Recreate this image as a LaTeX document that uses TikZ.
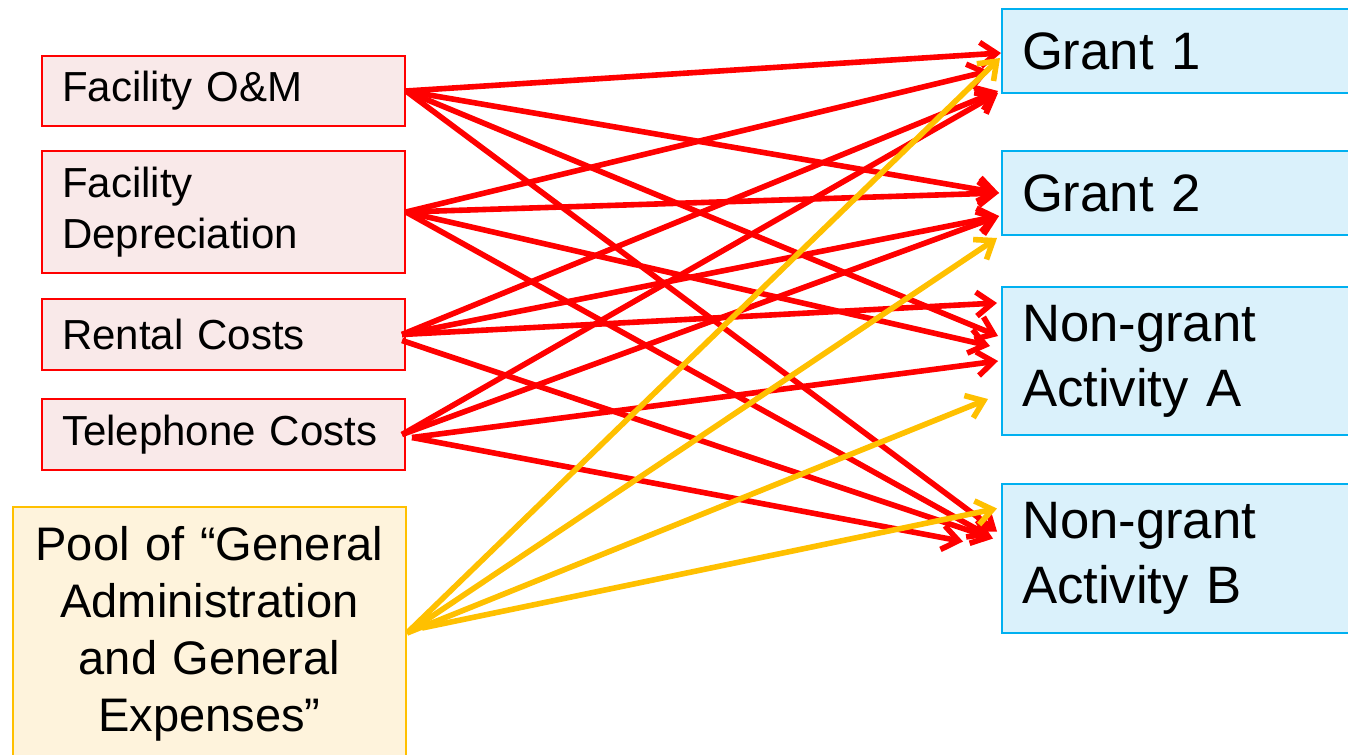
\documentclass[tikz,border=0pt]{standalone}
\usepackage{fontspec}
\setmainfont{Liberation Sans}
\usetikzlibrary{arrows.meta,calc}
\definecolor{lred}{HTML}{FF0000}
\definecolor{lyel}{HTML}{FFC000}
\definecolor{pinkfill}{HTML}{F9E9E9}
\definecolor{poolfill}{HTML}{FEF3DC}
\definecolor{bluefill}{HTML}{DAF1FB}
\definecolor{blueline}{HTML}{00B0F0}
\tikzset{
  srcbox/.style={draw=lred,line width=1.5pt,fill=pinkfill,anchor=north west,
    minimum width=272.25pt,inner xsep=15pt,text width=242pt,align=left,
    font=\fontsize{31.5}{38.5}\selectfont},
  poolbox/.style={draw=lyel,line width=1.5pt,fill=poolfill,anchor=north west,
    minimum width=294.75pt,minimum height=190.5pt,text width=280pt,align=center,
    font=\fontsize{35.3}{42.75}\selectfont},
  dstbox/.style={draw=blueline,line width=1.5pt,fill=bluefill,anchor=north west,
    minimum width=280pt,inner xsep=15pt,text width=250pt,align=left,
    font=\fontsize{39.5}{48.75}\selectfont},
  redarr/.style={draw=lred,line width=4.2pt,-{Straight Barb[length=12pt,width=18pt]}},
  yelarr/.style={draw=lyel,line width=4.2pt,-{Straight Barb[length=12pt,width=18pt]}},
}
\begin{document}
\begin{tikzpicture}[x=0.75pt,y=-0.75pt]
\useasboundingbox (0,0) rectangle (1348,754);
\clip (0,0) rectangle (1348,754);
% source boxes
\node[srcbox,minimum height=52.5pt] (om) at (41,55) {Facility O\&M};
\node[srcbox,minimum height=91.5pt] (dep) at (41,150) {Facility\\Depreciation};
\node[srcbox,minimum height=53.25pt] (rent) at (41,298) {Rental Costs};
\node[srcbox,minimum height=53.25pt] (tel) at (41,398) {Telephone Costs};
\node[poolbox] (pool) at (12,506) {Pool of “General\\Administration\\and General\\Expenses”};
% destination boxes
\node[dstbox,minimum height=63pt] (g1) at (1001,8) {Grant 1};
\node[dstbox,minimum height=63pt] (g2) at (1001,150) {Grant 2};
\node[dstbox,minimum height=111pt] (nga) at (1001,286) {Non-grant\\Activity A};
\node[dstbox,minimum height=111.75pt] (ngb) at (1001,483) {Non-grant\\Activity B};
% Facility O&M
\draw[redarr] (om.east) -- ($(g1.west)+(0,2)$);
\draw[redarr] (om.east) -- ($(g2.west)+(-2,0)$);
\draw[redarr] (om.east) -- ($(nga.west)+(-3,-25)$);
\draw[redarr] (om.east) -- ($(ngb.west)+(-4,-27)$);
% Facility Depreciation
\draw[redarr] (dep.east) -- ($(g1.west)+(-12,20)$);
\draw[redarr] (dep.east) -- ($(g2.west)+(-2,0)$);
\draw[redarr] (dep.east) -- ($(nga.west)+(-11,-15)$);
\draw[redarr] (dep.east) -- ($(ngb.west)+(-11,-22)$);
% Rental Costs
\draw[redarr] ($(rent.east)+(-4,0)$) -- ($(g1.west)+(-3,40)$);
\draw[redarr] ($(rent.east)+(-4,0)$) -- ($(g2.west)+(-2,23)$);
\draw[redarr] ($(rent.east)+(-4,0)$) -- ($(nga.west)+(-4,-58)$);
\draw[redarr] ($(rent.east)+(-4,6)$) -- ($(ngb.west)+(-8,-20)$);
% Telephone Costs
\draw[redarr] ($(tel.east)+(-4,0)$) -- ($(g1.west)+(-3,42)$);
\draw[redarr] ($(tel.east)+(-4,0)$) -- ($(g2.west)+(-2,23)$);
\draw[redarr] ($(tel.east)+(6,3)$) -- ($(nga.west)+(-3,0)$);
\draw[redarr] ($(tel.east)+(6,3)$) -- ($(ngb.west)+(-38,-17)$);
% Pool
\draw[yelarr] ($(pool.east)+(0,-1)$) -- ($(g1.west)+(-1,7)$);
\draw[yelarr] ($(pool.east)+(0,-1)$) -- ($(g2.west)+(-4,45)$);
\draw[yelarr] ($(pool.east)+(0,-1)$) -- ($(nga.west)+(-13,38)$);
\draw[yelarr] ($(pool.east)+(15,-6)$) -- ($(ngb.west)+(-4,-50)$);
\end{tikzpicture}
\end{document}
